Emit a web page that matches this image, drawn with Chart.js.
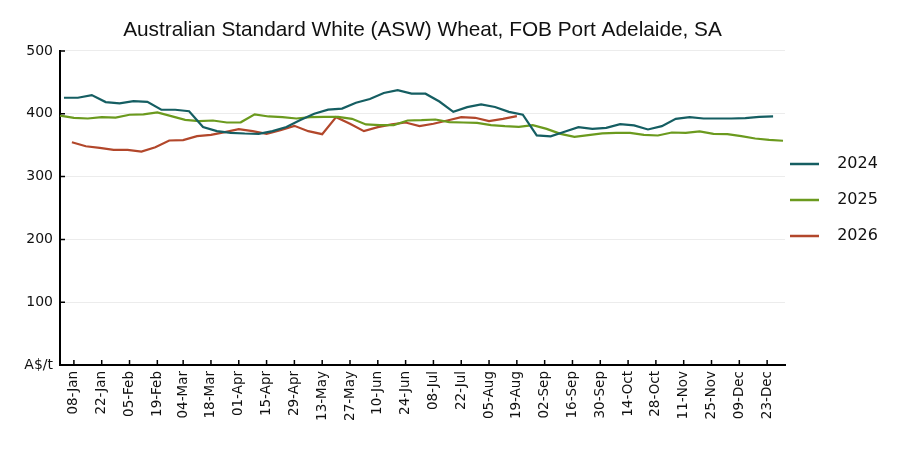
<!DOCTYPE html>
<html>
<head>
<meta charset="utf-8">
<script src="https://cdn.jsdelivr.net/npm/chart.js@4.4.1/dist/chart.umd.min.js"></script>
<style>
  html, body { margin: 0; padding: 0; background: #ffffff; }
  #wrap { width: 900px; height: 450px; }
</style>
</head>
<body>
<div id="wrap"><canvas id="c" width="900" height="450"></canvas></div>
<script>
const chartTitle = 'Australian Standard White (ASW) Wheat, FOB Port Adelaide, SA';
const yUnit = 'A$/t';
const tickLabels = ['08-Jan','22-Jan','05-Feb','19-Feb','04-Mar','18-Mar','01-Apr','15-Apr','29-Apr','13-May','27-May','10-Jun','24-Jun','08-Jul','22-Jul','05-Aug','19-Aug','02-Sep','16-Sep','30-Sep','14-Oct','28-Oct','11-Nov','25-Nov','09-Dec','23-Dec'];
const seriesNames = ['2024', '2025', '2026'];
const seriesStart = ['03-Jan', '01-Jan', '07-Jan'];   // first weekly (Wednesday) observation
const values2024 = [425.5,425.5,429.8,418.6,416.5,420,419,406.4,406.4,404,379,372.3,369.7,368.6,368,372.3,379,390,400,406.5,408.3,417.5,423.5,433,437.5,432.2,432,419.5,403,410.6,414.9,410.8,403.1,398.5,365.6,364,371.3,378.7,376,377.6,383.5,381.4,375,380.3,392,394.6,392.5,392.5,392.5,393,395.2,395.7];
const values2025 = [397,393.6,392.5,394.6,394,398.4,399,402.1,396.3,390.4,388.3,389.3,386.1,386.4,399,395.7,394.6,392.5,394.6,395,395,392,383,381.9,381.9,389.3,389.8,390.9,386.7,386.1,385.6,381.9,380.3,379.2,381.9,376,368,363.2,365.9,368.8,369.7,369.7,366.5,365.4,370.2,369.7,371.8,368,367.5,364.3,360.6,358.5,357];
const values2026 = [354.7,348.3,345.7,342.5,342.5,339.9,346.8,357.4,358,364.3,366.5,370.7,375.5,372.3,368,373.9,380.8,372.3,367.5,394.6,384.1,372.3,378.7,383,386.1,380.3,384.1,389.3,394.6,393.6,388.3,392,396.3];
const seriesValues = [values2024, values2025, values2026];
const seriesColors = ['#155e62', '#6b9a1e', '#b2472b'];

const monthNames = ['Jan','Feb','Mar','Apr','May','Jun','Jul','Aug','Sep','Oct','Nov','Dec'];
const monthLens = [31,28,31,30,31,30,31,31,30,31,30,31];
function dayOfYear(lbl) {
  const parts = lbl.split('-');
  const m = monthNames.indexOf(parts[1]);
  let d = 0;
  for (let i = 0; i < m; i++) d += monthLens[i];
  return d + parseInt(parts[0], 10) - 1;
}
const tickDays = tickLabels.map(dayOfYear);

const datasets = seriesNames.map((name, s) => {
  const start = dayOfYear(seriesStart[s]);
  return {
    label: name,
    data: seriesValues[s].map((v, i) => ({ x: start + 7 * i, y: v })),
    borderColor: seriesColors[s],
    backgroundColor: seriesColors[s],
    borderWidth: 2.2,
    pointRadius: 0,
    pointHoverRadius: 0,
    tension: 0,
    clip: false
  };
});

const innerTicks = {
  id: 'innerTicks',
  afterLayout(chart) {
    const lg = chart.legend;
    if (lg) {
      lg.left -= 15; lg.right -= 15;
      lg.top -= 25; lg.bottom -= 25;
    }
  },
  afterDatasetsDraw(chart) {
    const ctx = chart.ctx;
    const xs = chart.scales.x, ys = chart.scales.y;
    const a = chart.chartArea;
    ctx.save();
    ctx.strokeStyle = '#000';
    ctx.lineWidth = 1.5;
    ctx.beginPath();
    ys.ticks.forEach(t => {
      const y = ys.getPixelForValue(t.value);
      ctx.moveTo(a.left, y); ctx.lineTo(a.left + 5, y);
    });
    xs.ticks.forEach(t => {
      const x = xs.getPixelForValue(t.value);
      ctx.moveTo(x, a.bottom); ctx.lineTo(x, a.bottom - 5);
    });
    ctx.stroke();
    ctx.restore();
  }
};

new Chart(document.getElementById('c'), {
  type: 'line',
  data: { datasets },
  plugins: [innerTicks],
  options: {
    responsive: false,
    animation: false,
    devicePixelRatio: 1,
    layout: { padding: { top: 0, right: 0, bottom: 0, left: 0 } },
    plugins: {
      title: {
        display: true,
        text: chartTitle,
        fullSize: false,
        color: '#111',
        font: { family: 'Liberation Sans', size: 20.8, weight: 'normal' },
        padding: { top: 18, bottom: 8 }
      },
      legend: {
        position: 'right',
        maxWidth: 115,
        labels: {
          boxWidth: 29,
          boxHeight: 2.5,
          padding: 20,
          color: '#111',
          font: { family: 'DejaVu Sans', size: 16 },
          generateLabels(chart) {
            return chart.data.datasets.map((ds, i) => ({
              text: '  ' + ds.label,
              fillStyle: ds.borderColor,
              strokeStyle: ds.borderColor,
              lineWidth: 0,
              hidden: false,
              datasetIndex: i,
              fontColor: '#111'
            }));
          }
        }
      },
      tooltip: { enabled: false }
    },
    scales: {
      x: {
        type: 'linear',
        min: 0,
        max: 365,
        afterBuildTicks(scale) { scale.ticks = tickDays.map(v => ({ value: v })); },
        afterFit(scale) { scale.height = 85; },
        ticks: {
          autoSkip: false,
          minRotation: 90,
          maxRotation: 90,
          padding: 6,
          color: '#111',
          font: { family: 'DejaVu Sans', size: 13.5 },
          callback(v) { const i = tickDays.indexOf(v); return i >= 0 ? tickLabels[i] : ''; }
        },
        grid: { display: false, drawOnChartArea: false, drawTicks: false },
        border: { display: true, color: '#000', width: 2 }
      },
      y: {
        min: 0,
        max: 500,
        afterFit(scale) { scale.width = 60; },
        ticks: {
          stepSize: 100,
          padding: 7,
          color: '#111',
          font: { family: 'DejaVu Sans', size: 14 },
          callback(v) { return v === 0 ? yUnit : String(v); }
        },
        grid: {
          color: (c) => (c.tick && c.tick.value === 0) ? 'rgba(0,0,0,0)' : '#ececec',
          lineWidth: 1,
          drawTicks: false
        },
        border: { display: true, color: '#000', width: 2 }
      }
    }
  }
});
</script>
</body>
</html>
